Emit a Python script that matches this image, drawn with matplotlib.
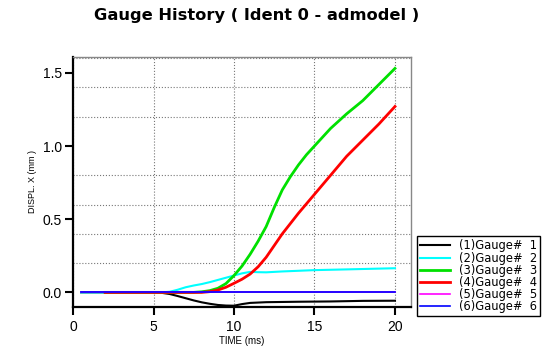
import numpy as np
import matplotlib.pyplot as plt
from matplotlib.ticker import MultipleLocator

plt.rcParams['font.family'] = ['Liberation Sans', 'DejaVu Sans']

# gauge histories (time in ms, displacement in mm)
t1 = [0.5, 5, 5.5, 6, 6.5, 7, 7.5, 8, 8.5, 9, 9.5, 10, 10.5, 11, 12, 14,
      16, 18, 20]
g1 = [0, 0, -0.003, -0.011, -0.025, -0.04, -0.055, -0.068, -0.078, -0.086,
      -0.09, -0.091, -0.08, -0.072, -0.067, -0.064, -0.062, -0.058, -0.057]

t2 = [0.5, 5.5, 6, 6.5, 7, 7.5, 8, 8.5, 9, 9.5, 10, 10.5, 11, 11.5, 12, 13,
      15, 17, 20]
g2 = [0, 0, 0.004, 0.018, 0.035, 0.047, 0.057, 0.07, 0.085, 0.1, 0.115,
      0.13, 0.14, 0.138, 0.137, 0.143, 0.152, 0.157, 0.165]

t3 = [2, 7.5, 8, 8.5, 9, 9.5, 10, 10.5, 11, 11.5, 12, 12.5, 13, 13.5, 14,
      14.5, 15, 15.5, 16, 16.5, 17, 17.5, 18, 18.5, 19, 19.5, 20]
g3 = [0, 0, 0.004, 0.012, 0.028, 0.06, 0.115, 0.18, 0.26, 0.35, 0.45, 0.58,
      0.70, 0.79, 0.87, 0.94, 1.0, 1.06, 1.12, 1.17, 1.22, 1.265, 1.31,
      1.365, 1.42, 1.475, 1.53]

t4 = [2, 8, 8.5, 9, 9.5, 10, 10.5, 11, 11.5, 12, 12.5, 13, 13.5, 14, 14.5,
      15, 15.5, 16, 16.5, 17, 17.5, 18, 18.5, 19, 19.5, 20]
g4 = [0, 0, 0.005, 0.016, 0.035, 0.062, 0.09, 0.125, 0.175, 0.24, 0.32,
      0.40, 0.47, 0.54, 0.605, 0.67, 0.735, 0.80, 0.865, 0.93, 0.985, 1.04,
      1.095, 1.15, 1.21, 1.27]

t5 = [0.5, 20]
g5 = [0, 0]

t6 = [0.5, 20]
g6 = [0, 0]

labels = ['(1)Gauge#  1', '(2)Gauge#  2', '(3)Gauge#  3',
          '(4)Gauge#  4', '(5)Gauge#  5', '(6)Gauge#  6']
colors = ['black', '#00ffff', '#00e000', '#ff0000', '#ff00ff', '#0000ff']
widths = [1.5, 1.5, 2.0, 2.0, 1.2, 1.2]


def main():
    fig = plt.figure(figsize=(5.54, 3.49), dpi=100)
    ax = fig.add_axes([0.1318, 0.1203, 0.6102, 0.7172])

    series = [(t1, g1), (t2, g2), (t3, g3), (t4, g4), (t5, g5), (t6, g6)]
    handles = []
    for (t, g), lab, c, w in zip(series, labels, colors, widths):
        h, = ax.plot(t, g, color=c, lw=w, label=lab)
        handles.append(h)
    # blue drawn on top of magenta, as in the reference
    handles[5].set_zorder(3)

    ax.set_xlim(0, 21)
    ax.set_ylim(-0.1, 1.61)
    ax.set_xticks([0, 5, 10, 15, 20])
    ax.set_yticks([0.0, 0.5, 1.0, 1.5])
    ax.set_yticklabels(['0.0', '0.5', '1.0', '1.5'])
    ax.yaxis.set_minor_locator(MultipleLocator(0.2))
    ax.tick_params(axis='y', which='minor', length=0)
    ax.tick_params(axis='both', which='major', direction='out', length=6,
                   width=1.5, labelsize=10, colors='black')
    ax.tick_params(axis='y', pad=2)

    ax.grid(True, axis='x', which='major', ls=':', color='#777777', lw=0.8)
    ax.grid(True, axis='y', which='minor', ls=':', color='#777777', lw=0.8)

    for side in ['left', 'bottom']:
        ax.spines[side].set_linewidth(1.6)
        ax.spines[side].set_color('black')
    for side in ['top', 'right']:
        ax.spines[side].set_linewidth(1.0)
        ax.spines[side].set_color('#888888')

    ax.set_xlabel('TIME (ms)', fontsize=7, labelpad=1)
    ax.set_ylabel('DISPL. X (mm )', fontsize=6.5, labelpad=4)

    fig.text(0.464, 0.955, 'Gauge History ( Ident 0 - admodel )',
             ha='center', va='center', fontsize=11.7, fontweight='bold',
             family='DejaVu Sans')

    fig.legend(handles=handles, loc='lower left',
               bbox_to_anchor=(0.753, 0.094),
               prop={'family': 'DejaVu Sans', 'size': 8.3},
               frameon=True, fancybox=False, edgecolor='black',
               framealpha=1, handlelength=2.6, handletextpad=0.8,
               labelspacing=-0.07, borderpad=0.25, borderaxespad=0)

    fig.savefig('out.png', dpi=100)


if __name__ == '__main__':
    main()
